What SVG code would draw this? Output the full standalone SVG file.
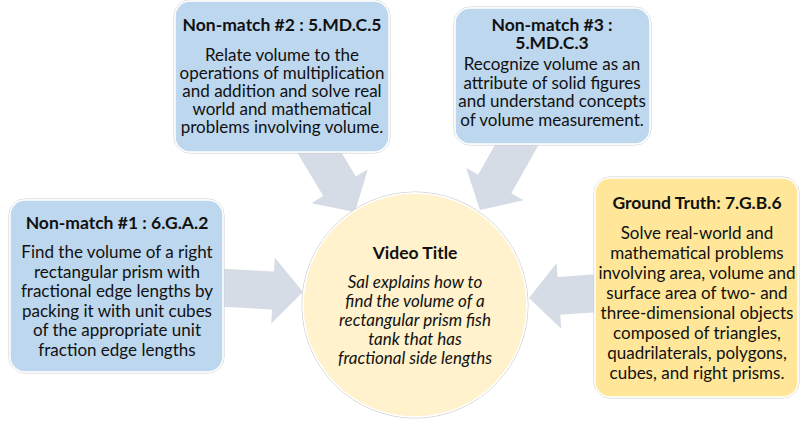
<svg xmlns="http://www.w3.org/2000/svg" width="800" height="421" viewBox="0 0 800 421">
<defs>
<style>
.arrow{fill:#D6DCE5;}
.box{stroke:#ffffff;stroke-width:1.5;}
.outline{fill:none;stroke:#CFCFCF;stroke-width:1;}
.blue{fill:#BDD7EE;}
.gold{fill:#FFE699;}
.t{font-family:Lato,"Open Sans",sans-serif;font-size:17px;fill:#111;text-anchor:middle;}
.b{font-weight:bold;font-size:17.5px;}
.i{font-style:italic;}
</style>
<path id="arr" d="M-100,-19 L-30,-19 L-30,-33 L0,0 L-30,33 L-30,19 L-100,19 Z"/>
</defs>
<rect width="800" height="421" fill="#ffffff"/>
<g id="connectors">
<use href="#arr" class="arrow" transform="translate(303,292) rotate(3)"/>
<use href="#arr" class="arrow" transform="translate(529,298) rotate(176)"/>
<use href="#arr" class="arrow" transform="translate(355,212) rotate(59)"/>
<use href="#arr" class="arrow" transform="translate(480,210) rotate(119.5)"/>
</g>
<g id="non-match-2">
<rect x="174" y="0" width="216" height="153" rx="16" class="outline"/>
<rect x="175" y="1" width="214" height="151" rx="15" class="box blue"/>
<text class="t b" x="282" y="31">Non-match #2 : 5.MD.C.5</text>
<text class="t" x="282" y="61">Relate volume to the</text>
<text class="t" x="282" y="79">operations of multiplication</text>
<text class="t" x="282" y="97">and addition and solve real</text>
<text class="t" x="282" y="115">world and mathematical</text>
<text class="t" x="282" y="133">problems involving volume.</text>
</g>
<g id="non-match-3">
<rect x="454" y="7" width="197" height="138" rx="16" class="outline"/>
<rect x="455" y="8" width="195" height="136" rx="15" class="box blue"/>
<text class="t b" x="552" y="31">Non-match #3 :</text>
<text class="t b" x="552" y="49">5.MD.C.3</text>
<text class="t" x="552" y="70">Recognize volume as an</text>
<text class="t" x="552" y="88.5">attribute of solid figures</text>
<text class="t" x="552" y="107">and understand concepts</text>
<text class="t" x="552" y="125.5">of volume measurement.</text>
</g>
<g id="non-match-1">
<rect x="9" y="199" width="215" height="174" rx="16" class="outline"/>
<rect x="10" y="200" width="213" height="172" rx="15" class="box blue"/>
<text class="t b" x="117" y="228.5">Non-match #1 : 6.G.A.2</text>
<text class="t" x="117" y="258">Find the volume of a right</text>
<text class="t" x="117" y="277.6">rectangular prism with</text>
<text class="t" x="117" y="297.2">fractional edge lengths by</text>
<text class="t" x="117" y="316.8">packing it with unit cubes</text>
<text class="t" x="117" y="336.4">of the appropriate unit</text>
<text class="t" x="117" y="356">fraction edge lengths</text>
</g>
<g id="ground-truth">
<rect x="594" y="177" width="205" height="221" rx="16" class="outline"/>
<rect x="595" y="178" width="203" height="219" rx="15" class="box gold"/>
<text class="t b" x="697" y="208.5">Ground Truth: 7.G.B.6</text>
<text class="t" x="697" y="238.5">Solve real-world and</text>
<text class="t" x="697" y="258.5">mathematical problems</text>
<text class="t" x="697" y="278.5">involving area, volume and</text>
<text class="t" x="697" y="298.5">surface area of two- and</text>
<text class="t" x="697" y="318.5">three-dimensional objects</text>
<text class="t" x="697" y="338.5">composed of triangles,</text>
<text class="t" x="697" y="358.5">quadrilaterals, polygons,</text>
<text class="t" x="697" y="378.5">cubes, and right prisms.</text>
</g>
<g id="video-title">
<circle cx="415" cy="305" r="113" class="outline"/>
<circle cx="415" cy="305" r="112" fill="#FFF2CC" stroke="#ffffff" stroke-width="1.5"/>
<text class="t b" x="415" y="258.5">Video Title</text>
<text class="t i" x="415" y="287.5">Sal explains how to</text>
<text class="t i" x="415" y="306.5">find the volume of a</text>
<text class="t i" x="415" y="325.5">rectangular prism fish</text>
<text class="t i" x="415" y="344.5">tank that has</text>
<text class="t i" x="415" y="363.5">fractional side lengths</text>
</g>
</svg>
